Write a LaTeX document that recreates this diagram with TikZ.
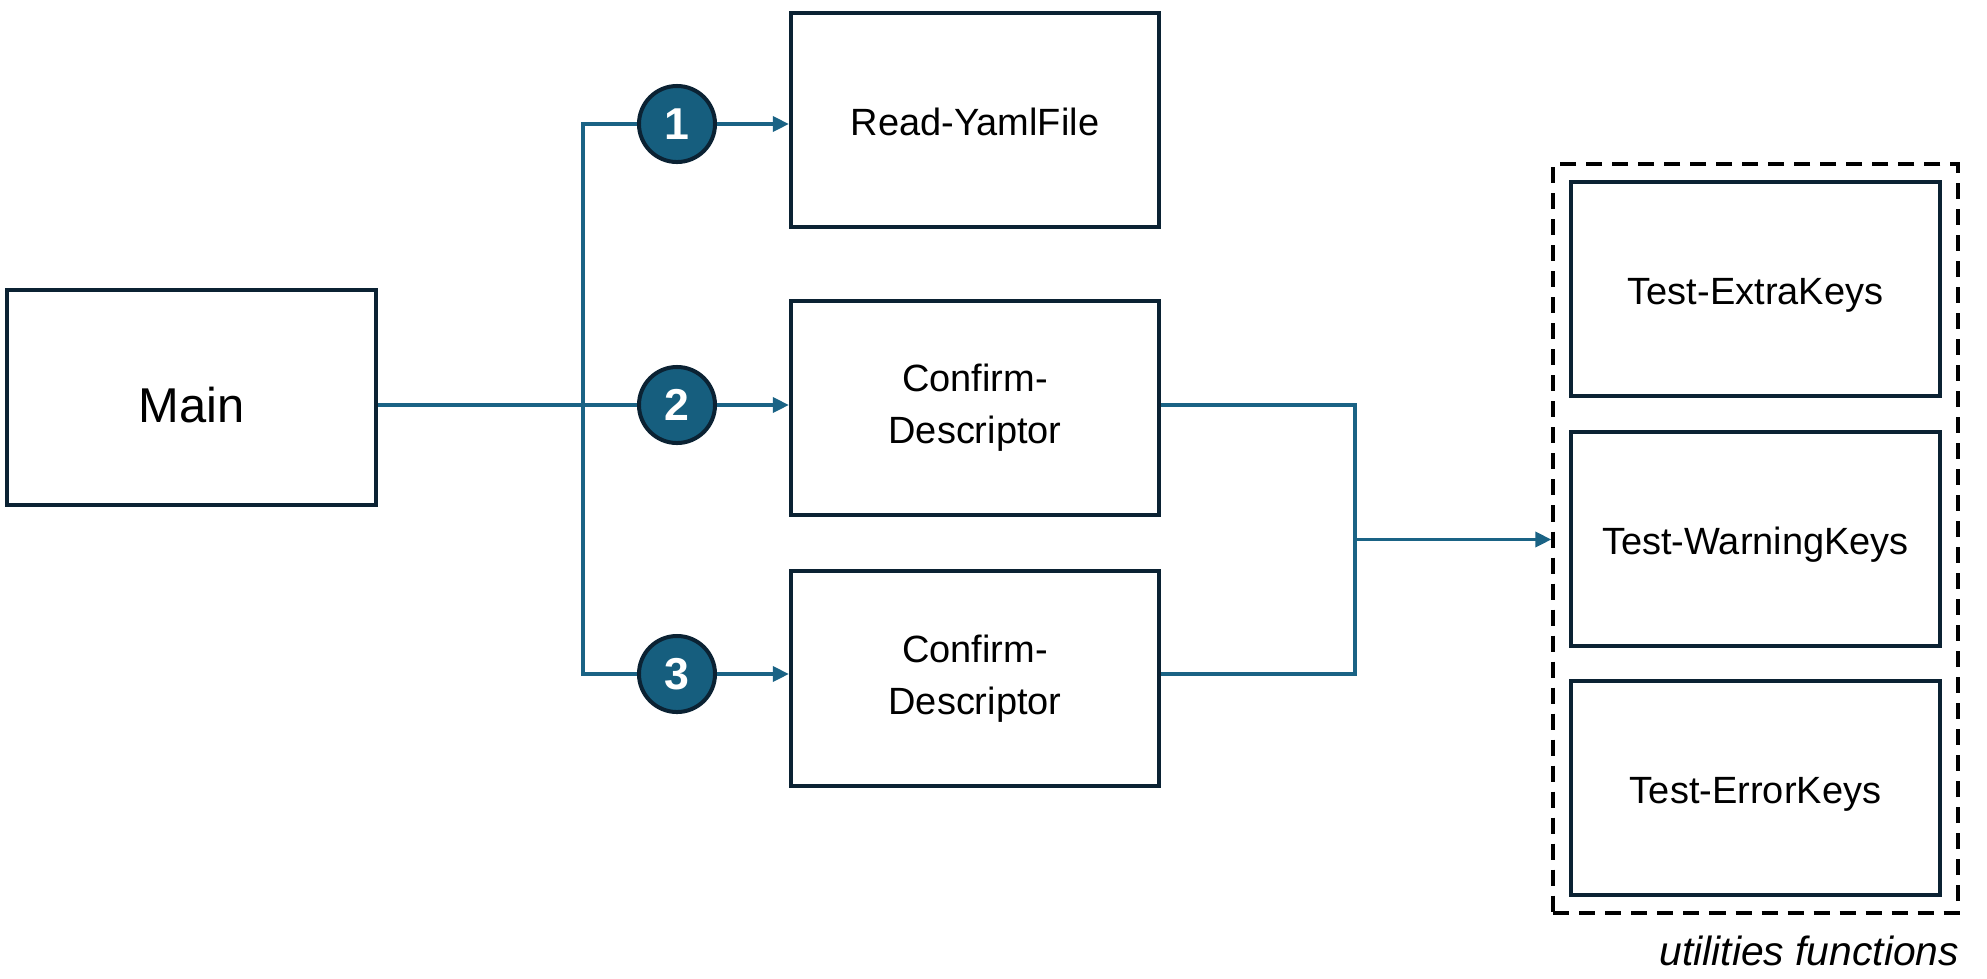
\documentclass[tikz,border=0pt]{standalone}
\usepackage{fontspec}
\setmainfont{Liberation Sans}
\usetikzlibrary{arrows.meta,fit}

\definecolor{boxline}{RGB}{11,34,51}
\definecolor{linkblue}{RGB}{26,99,133}
\definecolor{stepfill}{RGB}{22,94,126}

\tikzset{
    funcbox/.style={draw=boxline, line width=0.04cm, minimum width=3.68cm, minimum height=2.14cm,
        align=center, font=\fontsize{10.8pt}{14.8pt}\selectfont},
    oneline/.style={text height=8.9pt, text depth=0pt},
    stepnum/.style={circle, draw=boxline, fill=stepfill, line width=0.04cm, minimum size=0.76cm,
        inner sep=0pt, text=white, font=\fontsize{12.7pt}{14pt}\selectfont\bfseries},
    link/.style={draw=linkblue, line width=0.035cm},
    linkarrow/.style={link, -{Triangle[length=0.16cm,width=0.15cm]}},
}

\begin{document}
\begin{tikzpicture}[x=0.01cm,y=-0.01cm]
    \useasboundingbox (0,0) rectangle (1987,978);

    % boxes
    \node [funcbox, font=\fontsize{13.9pt}{16pt}\selectfont, text height=14.4pt, text depth=0pt] (main) at (191.5,397.5) {Main};
    \node [funcbox, oneline] (read) at (975,120) {Read-YamlFile};
    \node [funcbox] (conf1) at (975,408) {Confirm-\\Descriptor};
    \node [funcbox] (conf2) at (975,678.5) {Confirm-\\Descriptor};

    \node [funcbox, oneline] (extra) at (1755.5,289) {Test-ExtraKeys};
    \node [funcbox, oneline] (warn) at (1755.5,539) {Test-WarningKeys};
    \node [funcbox, oneline] (err) at (1755.5,788) {Test-ErrorKeys};

    \node [draw=black, line width=0.04cm, dash pattern=on 0.16cm off 0.1cm, inner sep=0.16cm,
        fit=(extra) (err)] (utils) {};
    \node [anchor=north east, inner sep=0pt, yshift=-0.2cm,
        font=\fontsize{11.6pt}{13pt}\selectfont\itshape] (utilslabel) at (utils.south east) {utilities functions};

    % numbered steps
    \node [stepnum] (c1) at (677,124) {1};
    \node [stepnum] (c2) at (677,405) {2};
    \node [stepnum] (c3) at (677,674) {3};

    \coordinate (spine) at (583,405);
    \coordinate (join) at (1355,539.5);

    % connectors
    \draw [link] (main.east |- spine) -- (c2.west);
    \draw [link] (c1.west) -| (spine) |- (c3.west);

    \draw [linkarrow] (c1.east) -- (c1 -| read.west);
    \draw [linkarrow] (c2.east) -- (c2 -| conf1.west);
    \draw [linkarrow] (c3.east) -- (c3 -| conf2.west);

    \draw [link] (c2 -| conf1.east) -| (join) |- (c3 -| conf2.east);
    \draw [linkarrow] (join) -- (join -| utils.west);

\end{tikzpicture}
\end{document}
